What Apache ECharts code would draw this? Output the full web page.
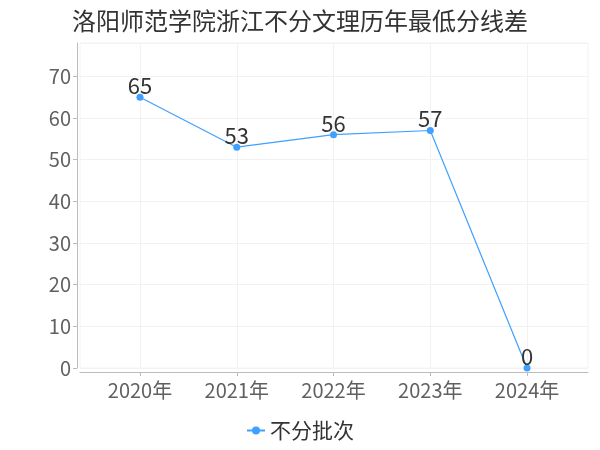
<!DOCTYPE html>
<html>
<head>
<meta charset="utf-8">
<script src="https://cdn.jsdelivr.net/npm/echarts@6/dist/echarts.min.js"></script>
<style>html,body{margin:0;padding:0;background:#fff}#c{width:600px;height:450px}</style>
</head>
<body>
<div id="c"></div>
<script>
const titleText = '洛阳师范学院浙江不分文理历年最低分线差';
const categories = ['2020年', '2021年', '2022年', '2023年', '2024年'];
const seriesName = '不分批次';
const values = [65, 53, 56, 57, 0];
const yTicks = [0, 10, 20, 30, 40, 50, 60, 70];

const FONT = '"Noto Sans CJK SC", "Noto Sans", sans-serif';
const chart = echarts.init(document.getElementById('c'), null, {renderer: 'canvas'});
const catIdx = categories.map((c, i) => i);
chart.setOption({
  animation: false,
  textStyle: {fontFamily: FONT},
  title: {
    text: titleText, left: 'center', top: 4,
    textStyle: {fontSize: 24, fontWeight: 'normal', color: '#333', fontFamily: FONT}
  },
  legend: {
    bottom: 4, left: 'center',
    itemWidth: 18, itemHeight: 10,
    textStyle: {fontSize: 21, color: '#333', fontFamily: FONT},
    data: [seriesName]
  },
  grid: {left: 80, right: 12, top: 43, bottom: 82, show: true, borderColor: '#f2f2f2', borderWidth: 1},
  xAxis: {
    type: 'value', min: -0.62, max: 4.63, offset: 4,
    axisLine: {show: true, onZero: false, lineStyle: {color: '#bbb'}},
    axisTick: {show: true, customValues: catIdx, length: 4, lineStyle: {color: '#bbb'}},
    axisLabel: {customValues: catIdx, formatter: v => categories[Math.round(v)], fontSize: 20, color: '#606060', margin: 8, fontFamily: FONT},
    splitLine: {show: true, lineStyle: {color: '#f2f2f2'}}
  },
  yAxis: {
    type: 'value', min: 0, max: 78, interval: 10, offset: 3,
    axisLine: {show: true, onZero: false, lineStyle: {color: '#bbb'}},
    axisTick: {show: true, length: 4, lineStyle: {color: '#bbb'}},
    axisLabel: {showMaxLabel: false, fontSize: 20, color: '#606060', margin: 6, fontFamily: FONT},
    splitLine: {show: true, lineStyle: {color: '#f2f2f2'}}
  },
  series: [{
    name: seriesName, type: 'line',
    data: values.map((v, i) => [catIdx[i], v]),
    symbol: 'circle', symbolSize: 7,
    itemStyle: {color: '#3fa0ff'},
    lineStyle: {width: 1.2, color: '#3fa0ff'},
    label: {show: true, position: 'top', distance: -3, fontSize: 22, color: '#333', fontFamily: FONT},
    clip: false
  }]
});
</script>
</body>
</html>
